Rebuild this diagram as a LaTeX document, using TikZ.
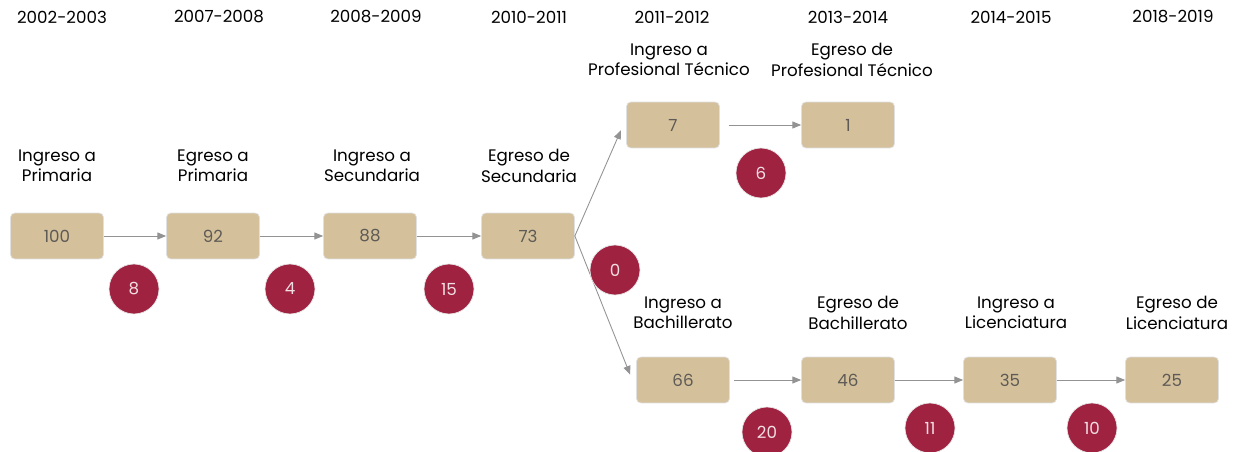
\documentclass[tikz,border=0pt]{standalone}
\usepackage{fontspec}
\setmainfont{Poppins}
\usetikzlibrary{positioning,arrows.meta}

\definecolor{tan}{HTML}{D4C19C}
\definecolor{guinda}{HTML}{9F2241}
\definecolor{numgray}{HTML}{5E5A55}

\tikzset{
  stagebox/.style={draw=black!12, fill=tan, rounded corners=2.5pt,
    minimum width=1.86cm, minimum height=0.92cm, text=numgray, font=\fontsize{9.5}{11}\selectfont},
  loss/.style={circle, draw=black!10, fill=guinda, minimum size=1.0cm, inner sep=0pt,
    text=white!85!guinda, font=\fontsize{9.5}{11}\selectfont},
  year/.style={font=\fontsize{9.5}{11}\selectfont},
  stage/.style={align=center, font=\fontsize{9.5}{11.5}\selectfont},
  flow/.style={-{Triangle[length=5pt,width=4pt]}, gray!85, line width=0.5pt}
}

\begin{document}
\begin{tikzpicture}[x=0.02cm, y=-0.02cm]
    \useasboundingbox (0,0) rectangle (1241,452);

    % years
    \node[year] (y1) at (62,17) {2002-2003};
    \node[year] (y2) at (219,17) {2007-2008};
    \node[year] (y3) at (376,17) {2008-2009};
    \node[year] (y4) at (529,17) {2010-2011};
    \node[year] (y5) at (672,17) {2011-2012};
    \node[year] (y6) at (848,17) {2013-2014};
    \node[year] (y7) at (1011,17) {2014-2015};
    \node[year] (y8) at (1173,17) {2018-2019};

    % main row
    \node[stagebox] (prim1) at (57,236) {100};
    \node[stagebox] (prim2) at (213,236) {92};
    \node[stagebox] (sec1) at (370,236) {88};
    \node[stagebox] (sec2) at (528,236) {73};
    \node[stage] at (57,166) {Ingreso a\\Primaria};
    \node[stage] at (213,166) {Egreso a\\Primaria};
    \node[stage] at (372,166) {Ingreso a\\Secundaria};
    \node[stage] at (529,166) {Egreso de\\Secundaria};

    % profesional tecnico
    \node[stagebox] (pt1) at (673,125) {7};
    \node[stagebox] (pt2) at (848,125) {1};
    \node[stage] at (669,60) {Ingreso a\\Profesional Técnico};
    \node[stage] at (852,60) {Egreso de\\Profesional Técnico};

    % bachillerato y licenciatura
    \node[stagebox] (bach1) at (683,380) {66};
    \node[stagebox] (bach2) at (848,380) {46};
    \node[stagebox] (lic1) at (1010,380) {35};
    \node[stagebox] (lic2) at (1172,380) {25};
    \node[stage] at (683,313) {Ingreso a\\Bachillerato};
    \node[stage] at (858,313) {Egreso de\\Bachillerato};
    \node[stage] at (1016,313) {Ingreso a\\Licenciatura};
    \node[stage] at (1177,313) {Egreso de\\Licenciatura};

    % arrows
    \draw[flow] (prim1) -- (prim2);
    \draw[flow] (prim2) -- (sec1);
    \draw[flow] (sec1) -- (sec2);
    \draw[flow] (sec2.east) -- ([xshift=-3pt,yshift=-3pt]pt1.west);
    \draw[flow] (sec2.east) -- ([xshift=-3.4pt,yshift=3pt]bach1.west);
    \draw[flow] ([xshift=5pt]pt1.east) -- (pt2);
    \draw[flow] ([xshift=2.5pt]bach1.east) -- (bach2);
    \draw[flow] (bach2) -- (lic1);
    \draw[flow] (lic1) -- (lic2);

    % losses
    \node[loss] (l1) at (134,289) {8};
    \node[loss] (l2) at (290,289) {4};
    \node[loss] (l3) at (449,289) {15};
    \node[loss] (l4) at (615,270) {0};
    \node[loss] (l5) at (761,173) {6};
    \node[loss] (l6) at (767,432) {20};
    \node[loss] (l7) at (930,428) {11};
    \node[loss] (l8) at (1092,428) {10};
\end{tikzpicture}
\end{document}
